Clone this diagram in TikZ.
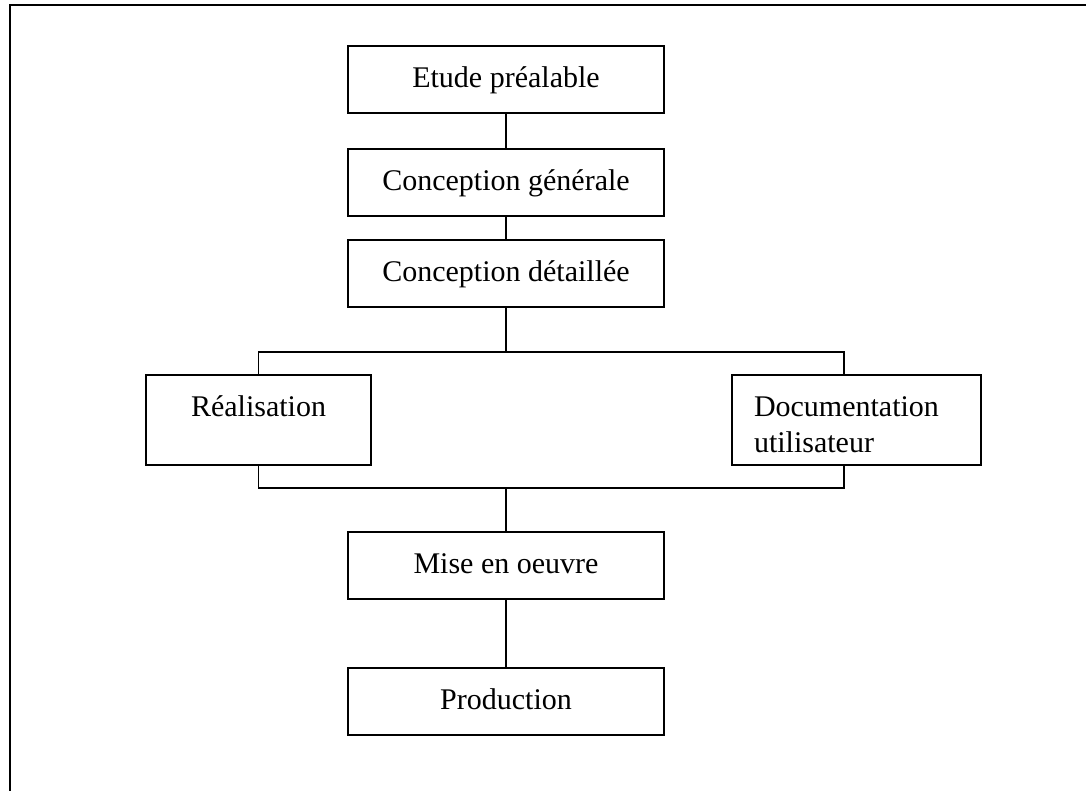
\documentclass[tikz,border=0pt]{standalone}
\usepackage{fontspec}
\setmainfont{Liberation Serif}
\usepackage{tikz}
\usetikzlibrary{calc}
\usetikzlibrary{positioning}

\begin{document}
\begin{tikzpicture}[
		x=0.5pt, y=-0.5pt,
		phase/.style={rectangle,draw=black,line width=0.9pt,minimum width=158pt,minimum height=33.5pt,
			inner sep=0pt,text height=10pt,text depth=2pt,font=\fontsize{15}{18}\selectfont},
		branch/.style={phase,minimum height=45pt},
		link/.style={line width=0.9pt},
		frame/.style={line width=1.2pt}
		]
		
		% Page size of the original scan
		\useasboundingbox (0,0) rectangle (1086,791);
		\draw[frame] (10,791) |- (1086,5);
		
		% Main chain
		\node[phase] (etude)     at (506,79.5)  {Etude préalable};
		\node[phase] (generale)  at (506,182.5) {Conception générale};
		\node[phase] (detaillee) at (506,273.5) {Conception détaillée};
		
		% Parallel branches
		\node[branch,minimum width=112.5pt,text depth=14pt] (realisation) at (258.5,420) {Réalisation};
		\node[branch,minimum width=124.5pt,text width=102.5pt,inner xsep=11pt,align=left,
			text height=9pt,text depth=13pt] (documentation) at (856.5,420) {Documentation\\[0pt]utilisateur};
		
		% End of chain
		\node[phase] (mise)       at (506,565.5) {Mise en oeuvre};
		\node[phase] (production) at (506,701.5) {Production};
		
		% Fork and join points
		\coordinate (split) at (506,352);
		\coordinate (join)  at (506,488);
		\coordinate (doctop) at ($(documentation.north)+(-12.5,0)$);
		\coordinate (docbot) at ($(documentation.south)+(-12.5,0)$);
		
		% Connections
		\draw[link] (etude) -- (generale);
		\draw[link] (generale) -- (detaillee);
		\draw[link] (detaillee) -- (split);
		\draw[link] (realisation.north) |- (split) -| (doctop);
		\draw[link] (realisation.south) |- (join) -| (docbot);
		\draw[link] (join) -- (mise);
		\draw[link] (mise) -- (production);
		
	\end{tikzpicture}
\end{document}
